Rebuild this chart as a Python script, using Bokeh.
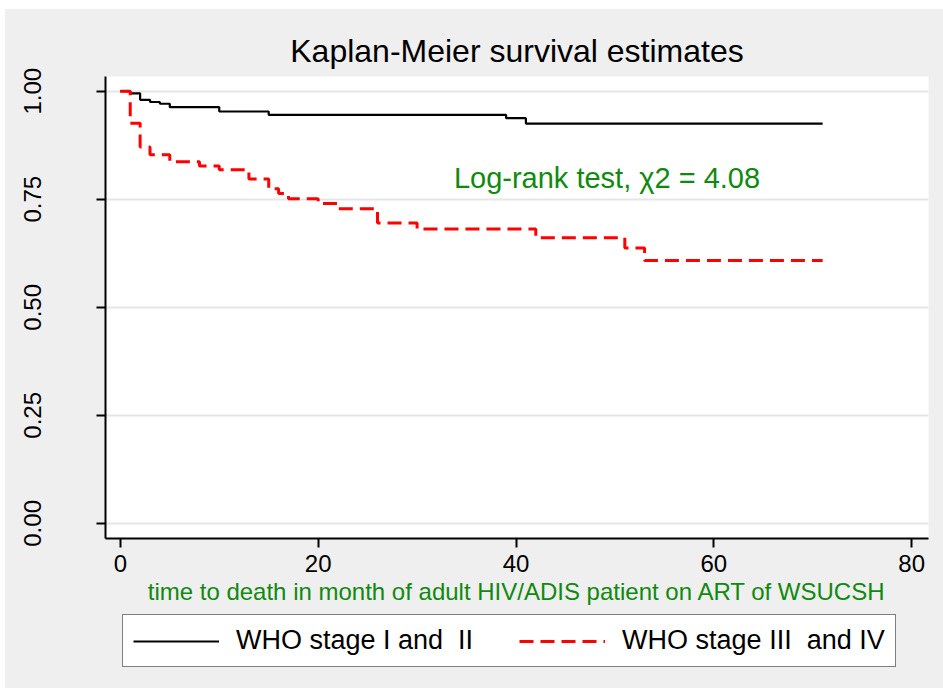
from bokeh.plotting import figure
from bokeh.layouts import column
from bokeh.models import Range1d, FixedTicker, Legend, LegendItem, Label, NumeralTickFormatter
from bokeh.embed import file_html
from bokeh.resources import INLINE

# ---- data ----
stage12_time = [0, 1, 2, 3, 4, 5, 10, 15, 39, 41, 71]
stage12_surv = [1.0, 0.995, 0.980, 0.975, 0.971, 0.963, 0.953, 0.945, 0.9375, 0.925, 0.925]

stage34_time = [0, 1, 2, 3, 5, 8, 10, 13, 15, 16, 17, 20, 22, 26, 30, 42, 51, 53, 71]
stage34_surv = [1.0, 0.926, 0.871, 0.853, 0.837, 0.827, 0.818, 0.797, 0.774, 0.763, 0.751,
                0.740, 0.728, 0.695, 0.681, 0.661, 0.637, 0.608, 0.608]

x_ticks = [0, 20, 40, 60, 80]
y_ticks = [0.0, 0.25, 0.5, 0.75, 1.0]

series_labels = ["WHO stage I and  II", "WHO stage III  and IV"]
title_text = "Kaplan-Meier survival estimates"
x_title = "time to death in month of adult HIV/ADIS patient on ART of WSUCSH"
annotation_text = "Log-rank test, \u03c72 = 4.08"

FONT = "Liberation Sans"
GREEN = "#0f8a0f"
BG = "#efefef"

BLACK_STYLE = dict(line_color="black", line_width=2.2)
RED_STYLE = dict(line_color="#ff0000", line_width=3, line_dash="14 7")

p = figure(frame_width=823, frame_height=462, output_backend="svg", toolbar_location=None,
           x_range=Range1d(-1.5, 81.7), y_range=Range1d(-0.035, 1.034),
           min_border_left=100, min_border_right=15, min_border_top=67, min_border_bottom=75)
p.background_fill_color = "white"
p.border_fill_color = BG
p.outline_line_color = None

p.title.text = title_text
p.title.text_font = FONT
p.title.text_font_size = "32px"
p.title.text_font_style = "normal"
p.title.text_color = "black"
p.title.align = "center"
p.title.standoff = 15

p.step(stage12_time, stage12_surv, mode="after", **BLACK_STYLE)
p.step(stage34_time, stage34_surv, mode="after", **RED_STYLE)

# axes
p.xaxis.ticker = FixedTicker(ticks=x_ticks)
p.yaxis.ticker = FixedTicker(ticks=y_ticks)
p.yaxis.formatter = NumeralTickFormatter(format="0.00")
for ax in (p.xaxis, p.yaxis):
    ax.axis_line_color = "black"
    ax.axis_line_width = 2
    ax.major_tick_line_color = "black"
    ax.major_tick_line_width = 2
    ax.major_tick_in = 0
    ax.major_tick_out = 9
    ax.minor_tick_line_color = None
    ax.major_label_text_font = FONT
    ax.major_label_text_font_size = "24px"
    ax.major_label_text_color = "black"
p.yaxis.major_label_orientation = "vertical"
p.yaxis.major_label_standoff = 55
p.xaxis.major_label_standoff = 7
p.xaxis.axis_label = x_title
p.xaxis.axis_label_text_font = FONT
p.xaxis.axis_label_text_font_size = "24px"
p.xaxis.axis_label_text_font_style = "normal"
p.xaxis.axis_label_text_color = GREEN
p.xaxis.axis_label_standoff = 3

p.xgrid.grid_line_color = None
p.ygrid.ticker = FixedTicker(ticks=y_ticks)
p.ygrid.grid_line_color = "#e6e6e6"
p.ygrid.grid_line_width = 2

p.add_layout(Label(x=49.2, y=0.798, text=annotation_text, text_align="center",
                   text_baseline="middle", text_font=FONT, text_font_size="29px",
                   text_color=GREEN))

# ---- legend strip (separate figure so the box can sit below the axis title) ----
# the series are drawn again here, but outside the visible y-range, so only the key shows
pl = figure(width=938, height=75, output_backend="svg", toolbar_location=None,
            x_axis_location=None, y_axis_location=None,
            x_range=Range1d(0, 80), y_range=Range1d(5, 6), min_border=0)
pl.background_fill_color = BG
pl.border_fill_color = BG
pl.outline_line_color = None
pl.grid.grid_line_color = None
k1 = pl.step(stage12_time, stage12_surv, mode="after", **BLACK_STYLE)
k2 = pl.step(stage34_time, stage34_surv, mode="after", **RED_STYLE)

legend = Legend(items=[LegendItem(label=series_labels[0], renderers=[k1]),
                       LegendItem(label=series_labels[1], renderers=[k2])],
                orientation="horizontal", location=(17, 21))
legend.label_text_font = FONT
legend.label_text_font_size = "27px"
legend.label_text_color = "black"
legend.glyph_width = 86
legend.glyph_height = 20
legend.label_standoff = 17
legend.spacing = 46
legend.padding = 10
legend.margin = 0
legend.border_line_color = "black"
legend.border_line_width = 1
legend.background_fill_color = "white"
legend.background_fill_alpha = 1.0
pl.add_layout(legend, "center")

layout = column(p, pl, spacing=0, styles={"background-color": BG})
layout.margin = (9, 0, 4, 5)

open("out.html", "w").write(file_html(layout, INLINE))
